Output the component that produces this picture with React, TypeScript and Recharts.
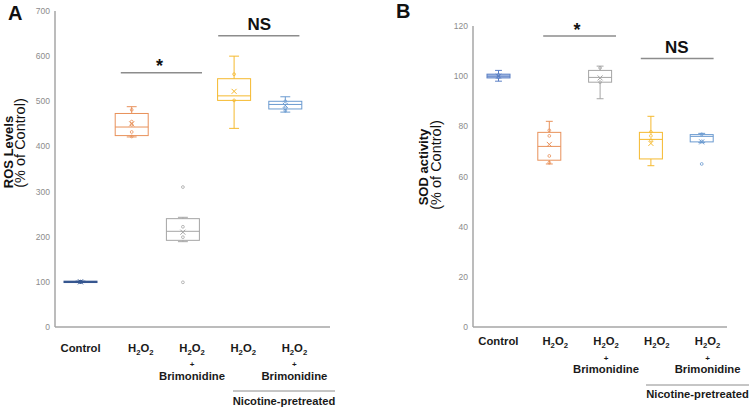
import { Bar, ComposedChart, ReferenceLine, XAxis, YAxis } from "recharts";

const categories = ["Control", "H2O2", "H2O2 + Brimonidine", "Nicotine H2O2", "Nicotine H2O2 + Brimonidine"];
const withBrimonidine = [false, false, true, false, true];

// panel A: ROS levels (% of control)
const rosTicks = [0, 100, 200, 300, 400, 500, 600, 700];
const rosMin = [99, 421, 189, 440, 476];
const rosQ1 = [98.5, 424, 192, 502, 483];
const rosMedian = [100, 443, 212, 512, 493];
const rosQ3 = [101.5, 473, 240, 550, 500];
const rosMax = [101, 488, 243, 600, 510];
const rosMean = [100, 450, 210, 522, 491];
const rosPoints = [[99.5, 100, 100.5], [481, 455, 448, 432, 422], [222, 199], [560, 502], [500, 484, 479]];
const rosOutliers = [[], [], [310, 99], [], []];

// panel B: SOD activity (% of control)
const sodTicks = [0, 20, 40, 60, 80, 100, 120];
const sodMin = [98, 65, 91, 64.3, 73.5];
const sodQ1 = [99.3, 66.5, 97.6, 67, 73.8];
const sodMedian = [100, 72, 99.5, 74.8, 76];
const sodQ3 = [100.8, 77.6, 102.3, 77.6, 76.7];
const sodMax = [102.3, 82, 104, 84, 77.2];
const sodMean = [100, 72.8, 99.3, 73.2, 73.8];
const sodPoints = [[100.5, 99.5], [78.4, 76.2, 68.2, 65.5], [103.3, 97.6], [77.8, 76.2, 74.5], [76.8, 74]];
const sodOutliers = [[], [], [], [], [65]];

type BoxRow = {
  name: string;
  min: number;
  q1: number;
  median: number;
  q3: number;
  max: number;
  mean: number;
  points: number[];
  outliers: number[];
  color: string;
  fill: string;
};

const FONT = "'Liberation Sans', Arial, sans-serif";
const AXIS_GRAY = "#a6a6a6";

function buildRows(
  min: number[], q1: number[], median: number[], q3: number[], max: number[], mean: number[],
  points: number[][], outliers: number[][], colors: string[], fills: string[]
): BoxRow[] {
  return categories.map((name, i) => ({
    name,
    min: min[i],
    q1: q1[i],
    median: median[i],
    q3: q3[i],
    max: max[i],
    mean: mean[i],
    points: points[i],
    outliers: outliers[i],
    color: colors[i],
    fill: fills[i],
  }));
}

const rosRows = buildRows(rosMin, rosQ1, rosMedian, rosQ3, rosMax, rosMean, rosPoints, rosOutliers,
  ["#34558f", "#e8915a", "#a5a5a5", "#f5b92e", "#6b9bd0"],
  ["#34558f", "none", "none", "none", "none"]);

const sodRows = buildRows(sodMin, sodQ1, sodMedian, sodQ3, sodMax, sodMean, sodPoints, sodOutliers,
  ["#5a7fc4", "#e8915a", "#a5a5a5", "#f5b92e", "#6b9bd0"],
  ["#b9cbea", "none", "none", "none", "none"]);

function BoxShape(props: any) {
  const { x, y, width, height, payload } = props;
  const row = payload as BoxRow;
  const top = height >= 0 ? y : y + height;
  const span = Math.abs(height);
  const lo = Math.min(row.min, row.q1);
  const hi = Math.max(row.max, row.q3);
  const range = row.max - row.min || 1;
  // the bar spans min..max, so every other value is placed along that same scale
  const py = (v: number) => top + (span * (row.max - v)) / range;
  const cx = x + width / 2;
  const cap = width * 0.15;
  const c = row.color;
  const yHi = py(hi);
  const yLo = py(lo);
  const yQ3 = py(row.q3);
  const yQ1 = py(row.q1);
  const yMean = py(row.mean);
  return (
    <g>
      <line x1={cx} x2={cx} y1={yHi} y2={yQ3} stroke={c} strokeWidth={1} />
      <line x1={cx} x2={cx} y1={yQ1} y2={yLo} stroke={c} strokeWidth={1} />
      <line x1={cx - cap} x2={cx + cap} y1={yHi} y2={yHi} stroke={c} strokeWidth={1} />
      <line x1={cx - cap} x2={cx + cap} y1={yLo} y2={yLo} stroke={c} strokeWidth={1} />
      <rect x={x} y={yQ3} width={width} height={Math.max(yQ1 - yQ3, 0.5)} fill={row.fill} stroke={c} strokeWidth={1} />
      <line x1={x} x2={x + width} y1={py(row.median)} y2={py(row.median)} stroke={c} strokeWidth={1} />
      {row.points.map((v, i) => (
        <circle key={`p${i}`} cx={cx} cy={py(v)} r={1.4} fill="none" stroke={c} strokeWidth={0.8} />
      ))}
      {row.outliers.map((v, i) => (
        <circle key={`o${i}`} cx={cx} cy={py(v)} r={1.4} fill="none" stroke={c} strokeWidth={0.8} />
      ))}
      <path
        d={`M${cx - 2.5},${yMean - 2.5}L${cx + 2.5},${yMean + 2.5}M${cx - 2.5},${yMean + 2.5}L${cx + 2.5},${yMean - 2.5}`}
        stroke={c}
        strokeWidth={1}
      />
    </g>
  );
}

function H2O2({ x, y, size }: { x: number; y: number; size: number }) {
  const sub = size * 0.68;
  return (
    <text x={x} y={y} textAnchor="middle" fontFamily={FONT} fontWeight="bold" fontSize={size} fill="#1a1a1a">
      H<tspan dy={3} fontSize={sub}>2</tspan>
      <tspan dy={-3}>O</tspan>
      <tspan dy={3} fontSize={sub}>2</tspan>
    </text>
  );
}

function makeTick(first: number, plus: number, second: number, dx: number) {
  return (props: any) => {
    const { x, y, index } = props;
    const tx = x + (index > 0 ? dx : 0);
    const size = 11.3;
    return (
      <g>
        {index === 0 ? (
          <text x={tx} y={y + first} textAnchor="middle" fontFamily={FONT} fontWeight="bold" fontSize={size} fill="#1a1a1a">
            Control
          </text>
        ) : (
          <H2O2 x={tx} y={y + first} size={size} />
        )}
        {withBrimonidine[index] && (
          <>
            <text x={tx} y={y + plus} textAnchor="middle" fontFamily={FONT} fontWeight="bold" fontSize={8} fill="#1a1a1a">
              +
            </text>
            <text x={tx} y={y + second} textAnchor="middle" fontFamily={FONT} fontWeight="bold" fontSize={size} fill="#1a1a1a">
              Brimonidine
            </text>
          </>
        )}
      </g>
    );
  };
}

function sigShape(text: string, extL: number, extR: number, fontSize: number, lift: number) {
  return (props: any) => {
    const { x1, x2, y1 } = props;
    return (
      <g>
        <line x1={x1 - extL} x2={x2 + extR} y1={y1} y2={y1} stroke="#8c8c8c" strokeWidth={1.5} />
        <text x={(x1 + x2) / 2 + (extR - extL) / 4} y={y1 - lift} textAnchor="middle" fontFamily={FONT} fontWeight="bold" fontSize={fontSize} fill="#111">
          {text}
        </text>
      </g>
    );
  };
}

const yTick = { fill: "#8c8c8c", fontSize: 8.5, fontFamily: FONT };

function PanelA() {
  return (
    <div style={{ position: "absolute", left: 0, top: 0, width: 375, height: 407 }}>
      <ComposedChart width={375} height={407} data={rosRows} margin={{ top: 11, right: 45, bottom: 50, left: 35 }}>
        <XAxis
          dataKey="name"
          type="category"
          height={30}
          padding={{ left: 0, right: 19 }}
          axisLine={{ stroke: AXIS_GRAY, strokeWidth: 1.5 }}
          tickLine={false}
          tickSize={0}
          tickMargin={0}
          interval={0}
          tick={makeTick(25, 40, 52.5, 9)}
        />
        <YAxis
          type="number"
          domain={[0, 700]}
          ticks={rosTicks}
          width={20}
          axisLine={{ stroke: AXIS_GRAY, strokeWidth: 1.5 }}
          tickLine={false}
          tickSize={3}
          tickMargin={2}
          tick={yTick}
        />
        <Bar dataKey={(r: BoxRow) => [r.min, r.max]} barSize={33} shape={BoxShape} isAnimationActive={false} />
        <ReferenceLine
          segment={[{ x: categories[1], y: 563 }, { x: categories[2], y: 563 }]}
          shape={sigShape("*", 11, 19, 18, 1)}
        />
        <ReferenceLine
          segment={[{ x: categories[3], y: 645 }, { x: categories[4], y: 645 }]}
          shape={sigShape("NS", 16, 14, 17, 6)}
        />
      </ComposedChart>
      <svg width={375} height={407} style={{ position: "absolute", left: 0, top: 0, pointerEvents: "none" }}>
        <text x={8} y={19.5} fontFamily={FONT} fontWeight="bold" fontSize={20} fill="#111">A</text>
        <text x={12.5} y={152} transform="rotate(-90 12.5 152)" textAnchor="middle" fontFamily={FONT} fontWeight="bold" fontSize={13} fill="#111">
          ROS Levels
        </text>
        <text x={25} y={143} transform="rotate(-90 25 143)" textAnchor="middle" fontFamily={FONT} fontSize={14.5} fill="#111">
          (% of Control)
        </text>
        <line x1={233} x2={335} y1={391} y2={391} stroke="#8c8c8c" strokeWidth={1} />
        <text x={284} y={404.5} textAnchor="middle" fontFamily={FONT} fontWeight="bold" fontSize={11.2} fill="#1a1a1a">
          Nicotine-pretreated
        </text>
      </svg>
    </div>
  );
}

function PanelB() {
  return (
    <div style={{ position: "absolute", left: 375, top: 0, width: 375, height: 407 }}>
      <ComposedChart width={375} height={407} data={sodRows} margin={{ top: 26, right: 23, bottom: 50, left: 78 }}>
        <XAxis
          dataKey="name"
          type="category"
          height={30}
          padding={{ left: 0, right: 0 }}
          axisLine={{ stroke: AXIS_GRAY, strokeWidth: 1.5 }}
          tickLine={false}
          tickSize={0}
          tickMargin={0}
          interval={0}
          tick={makeTick(18, 34, 45.5, 6)}
        />
        <YAxis
          type="number"
          domain={[0, 120]}
          ticks={sodTicks}
          width={20}
          axisLine={{ stroke: AXIS_GRAY, strokeWidth: 1.5 }}
          tickLine={false}
          tickSize={3}
          tickMargin={2}
          tick={yTick}
        />
        <Bar dataKey={(r: BoxRow) => [r.min, r.max]} barSize={23} shape={BoxShape} isAnimationActive={false} />
        <ReferenceLine
          segment={[{ x: categories[1], y: 116 }, { x: categories[2], y: 116 }]}
          shape={sigShape("*", 6, 16, 18, 0)}
        />
        <ReferenceLine
          segment={[{ x: categories[3], y: 107 }, { x: categories[4], y: 107 }]}
          shape={sigShape("NS", 10, 12, 17, 6)}
        />
      </ComposedChart>
      <svg width={375} height={407} style={{ position: "absolute", left: 0, top: 0, pointerEvents: "none" }}>
        <text x={21} y={18} fontFamily={FONT} fontWeight="bold" fontSize={20} fill="#111">B</text>
        <text x={53} y={167} transform="rotate(-90 53 167)" textAnchor="middle" fontFamily={FONT} fontWeight="bold" fontSize={13} fill="#111">
          SOD activity
        </text>
        <text x={66} y={165} transform="rotate(-90 66 165)" textAnchor="middle" fontFamily={FONT} fontSize={14.5} fill="#111">
          (% of Control)
        </text>
        <line x1={271} x2={374} y1={385} y2={385} stroke="#8c8c8c" strokeWidth={1} />
        <text x={322.5} y={397.5} textAnchor="middle" fontFamily={FONT} fontWeight="bold" fontSize={11.2} fill="#1a1a1a">
          Nicotine-pretreated
        </text>
      </svg>
    </div>
  );
}

export default function App() {
  return (
    <div style={{ position: "absolute", left: 0, top: 0, width: 750, height: 407, background: "#fff", overflow: "hidden" }}>
      <PanelA />
      <PanelB />
    </div>
  );
}
